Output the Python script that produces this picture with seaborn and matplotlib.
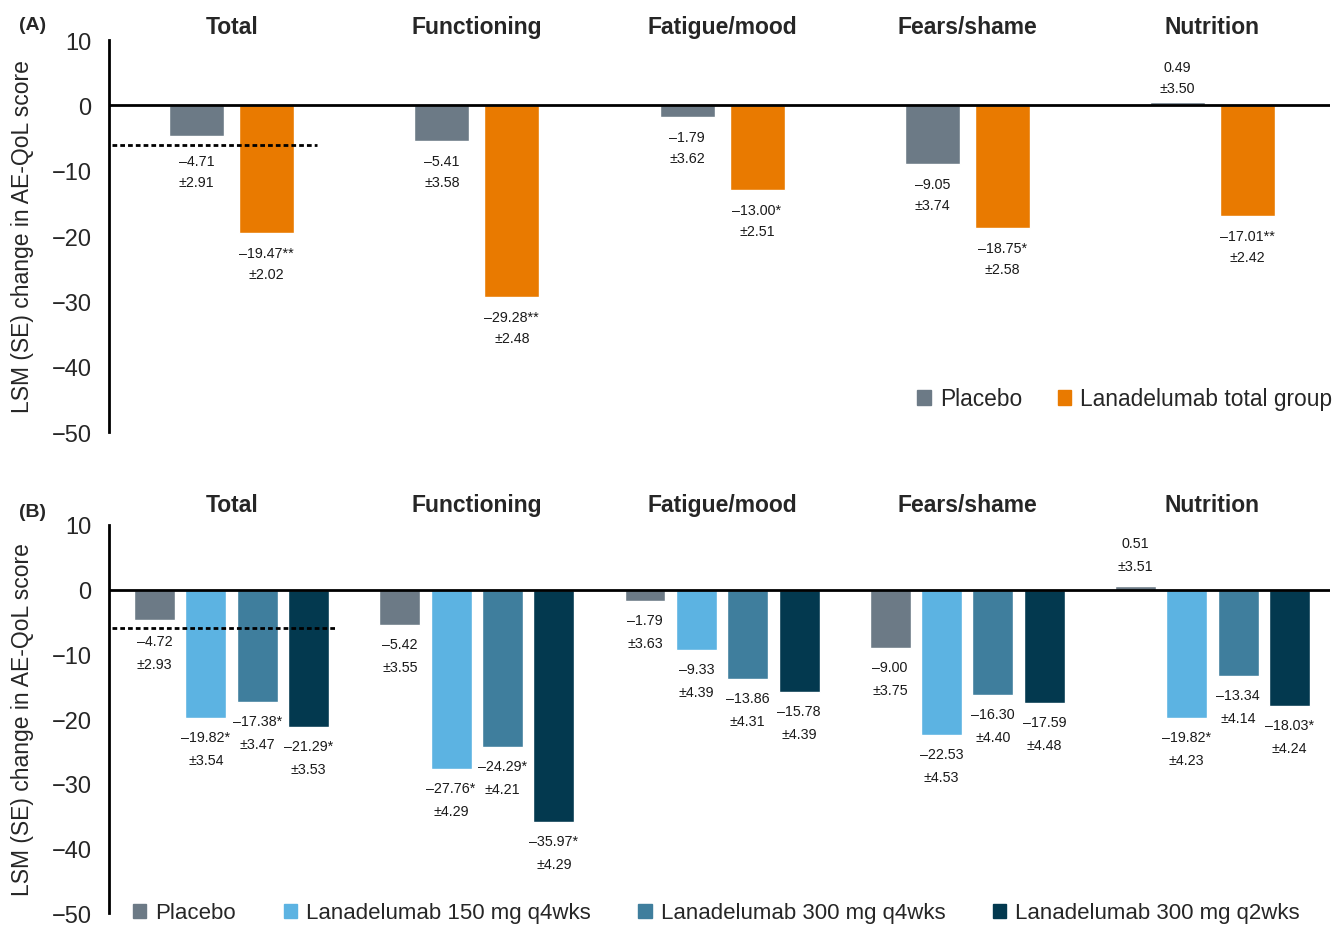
import matplotlib
matplotlib.use("Agg")
import matplotlib.pyplot as plt
from matplotlib.patches import Patch
from matplotlib.transforms import blended_transform_factory
import pandas as pd
import seaborn as sns

# ---- data -------------------------------------------------------------
domains = ["Total", "Functioning", "Fatigue/mood", "Fears/shame", "Nutrition"]

# (A) placebo vs. pooled lanadelumab
groups_a = ["Placebo", "Lanadelumab total group"]
placebo_a = [-4.71, -5.41, -1.79, -9.05, 0.49]
placebo_a_se = [2.91, 3.58, 3.62, 3.74, 3.50]
placebo_a_sig = ["", "", "", "", ""]
lana_total = [-19.47, -29.28, -13.00, -18.75, -17.01]
lana_total_se = [2.02, 2.48, 2.51, 2.58, 2.42]
lana_total_sig = ["**", "**", "*", "*", "**"]

# (B) placebo vs. each dosing regimen
groups_b = ["Placebo", "Lanadelumab 150 mg q4wks",
            "Lanadelumab 300 mg q4wks", "Lanadelumab 300 mg q2wks"]
placebo_b = [-4.72, -5.42, -1.79, -9.00, 0.51]
placebo_b_se = [2.93, 3.55, 3.63, 3.75, 3.51]
placebo_b_sig = ["", "", "", "", ""]
l150_q4 = [-19.82, -27.76, -9.33, -22.53, -19.82]
l150_q4_se = [3.54, 4.29, 4.39, 4.53, 4.23]
l150_q4_sig = ["*", "*", "", "", "*"]
l300_q4 = [-17.38, -24.29, -13.86, -16.30, -13.34]
l300_q4_se = [3.47, 4.21, 4.31, 4.40, 4.14]
l300_q4_sig = ["*", "*", "", "", ""]
l300_q2 = [-21.29, -35.97, -15.78, -17.59, -18.03]
l300_q2_se = [3.53, 4.29, 4.39, 4.48, 4.24]
l300_q2_sig = ["*", "*", "", "", "*"]

# minimal clinically important difference reference line
mcid = -6

# ---- style ------------------------------------------------------------
sns.set_style("white")
plt.rcParams["font.family"] = ["Liberation Sans", "DejaVu Sans"]

palette_a = {"Placebo": "#6c7a86", "Lanadelumab total group": "#e97a00"}
palette_b = {"Placebo": "#6c7a86",
             "Lanadelumab 150 mg q4wks": "#5cb3e2",
             "Lanadelumab 300 mg q4wks": "#3f7e9d",
             "Lanadelumab 300 mg q2wks": "#03394f"}


def long_frame(groups, series):
    rows = []
    for g, vals in zip(groups, series):
        for d, v in zip(domains, vals):
            rows.append({"domain": d, "group": g, "lsm": v})
    return pd.DataFrame(rows)


def fmt(v):
    s = f"{abs(v):.2f}"
    return ("\u2013" + s) if v < 0 else s


def draw_panel(ax, groups, series, ses, sigs, palette, width, gap,
               neg_gap, mcid_gap, pos_gap, line_gap, title_pad, mcid_span):
    df = long_frame(groups, series)
    sns.barplot(data=df, x="domain", y="lsm", hue="group", order=domains,
                hue_order=groups, palette=palette, width=width, gap=gap,
                saturation=1, errorbar=None, legend=False, ax=ax, zorder=2)

    # value labels under (or above) each bar; labels that would sit on the
    # MCID reference line are pushed below it
    for cont, se, sig in zip(ax.containers, ses, sigs):
        for bar, e, s in zip(cont, se, sig):
            xc = bar.get_x() + bar.get_width() / 2
            val = bar.get_height()
            if val < 0:
                if val > mcid and mcid_span[0] <= xc <= mcid_span[1]:
                    y_anchor, g0 = mcid, mcid_gap
                else:
                    y_anchor, g0 = val, neg_gap
                off1, off2 = -g0, -(g0 + line_gap)
            else:
                y_anchor = val
                off2, off1 = pos_gap, pos_gap + line_gap
            ax.annotate(fmt(val) + s, (xc, y_anchor), xytext=(0, off1),
                        textcoords="offset pixels", ha="center", va="center",
                        fontsize=10.3, color="#1a1a1a")
            ax.annotate("\u00b1" + f"{e:.2f}", (xc, y_anchor), xytext=(0, off2),
                        textcoords="offset pixels", ha="center", va="center",
                        fontsize=10.3, color="#1a1a1a")

    ax.axhline(0, color="black", lw=2, zorder=3)
    ax.plot(mcid_span, [mcid, mcid], color="black", lw=2,
            dashes=(1.7, 1.1), zorder=4)

    ax.set_xlim(-0.5, 4.48)
    ax.set_ylim(-50, 10)
    ax.set_yticks(range(-50, 11, 10))
    ax.set_xticks([])
    ax.set_xlabel("")
    ax.set_ylabel("LSM (SE) change in AE-QoL score", fontsize=16.5, labelpad=13)
    ax.tick_params(axis="y", labelsize=17, length=6.5, width=2,
                   direction="out", pad=6, color="black")
    sns.despine(ax=ax, bottom=True)
    ax.spines["left"].set_linewidth(2)
    ax.spines["left"].set_color("black")

    trans = blended_transform_factory(ax.transData, ax.transAxes)
    for i, d in enumerate(domains):
        ax.annotate(d, (i, 1), xycoords=trans, xytext=(0, title_pad),
                    textcoords="offset pixels", ha="center", va="center",
                    fontsize=16.5, fontweight="bold")


fig = plt.figure(figsize=(13.43, 9.28), dpi=100)
ax_a = fig.add_axes([0.0812, 0.5334, 0.9092, 0.4224])
ax_b = fig.add_axes([0.0812, 0.0150, 0.9092, 0.4182])

draw_panel(ax_a, groups_a, [placebo_a, lana_total],
           [placebo_a_se, lana_total_se], [placebo_a_sig, lana_total_sig],
           palette_a, width=0.571, gap=0.215,
           neg_gap=20, mcid_gap=16, pos_gap=14, line_gap=21, title_pad=14,
           mcid_span=[-0.488, 0.349])

draw_panel(ax_b, groups_b, [placebo_b, l150_q4, l300_q4, l300_q2],
           [placebo_b_se, l150_q4_se, l300_q4_se, l300_q2_se],
           [placebo_b_sig, l150_q4_sig, l300_q4_sig, l300_q2_sig],
           palette_b, width=0.838, gap=0.203,
           neg_gap=19, mcid_gap=13, pos_gap=20, line_gap=23, title_pad=20,
           mcid_span=[-0.486, 0.427])

# legends
legend_kw = dict(frameon=False, handlelength=0.6,
                 handleheight=0.6, handletextpad=0.4, borderpad=0,
                 borderaxespad=0, bbox_transform=fig.transFigure,
                 loc="center left")
ax_a.legend([Patch(color=palette_a[g]) for g in groups_a], groups_a,
            ncol=2, columnspacing=1.55, fontsize=16.4,
            bbox_to_anchor=(0.683, 0.569), **legend_kw)
ax_b.legend([Patch(color=palette_b[g]) for g in groups_b], groups_b,
            ncol=4, columnspacing=2.15, fontsize=16,
            bbox_to_anchor=(0.099, 0.0151), **legend_kw)

fig.text(0.0245, 0.973, "(A)", fontsize=14, fontweight="bold",
         ha="center", va="center")
fig.text(0.0245, 0.448, "(B)", fontsize=14, fontweight="bold",
         ha="center", va="center")

fig.savefig("out.png", dpi=100)
